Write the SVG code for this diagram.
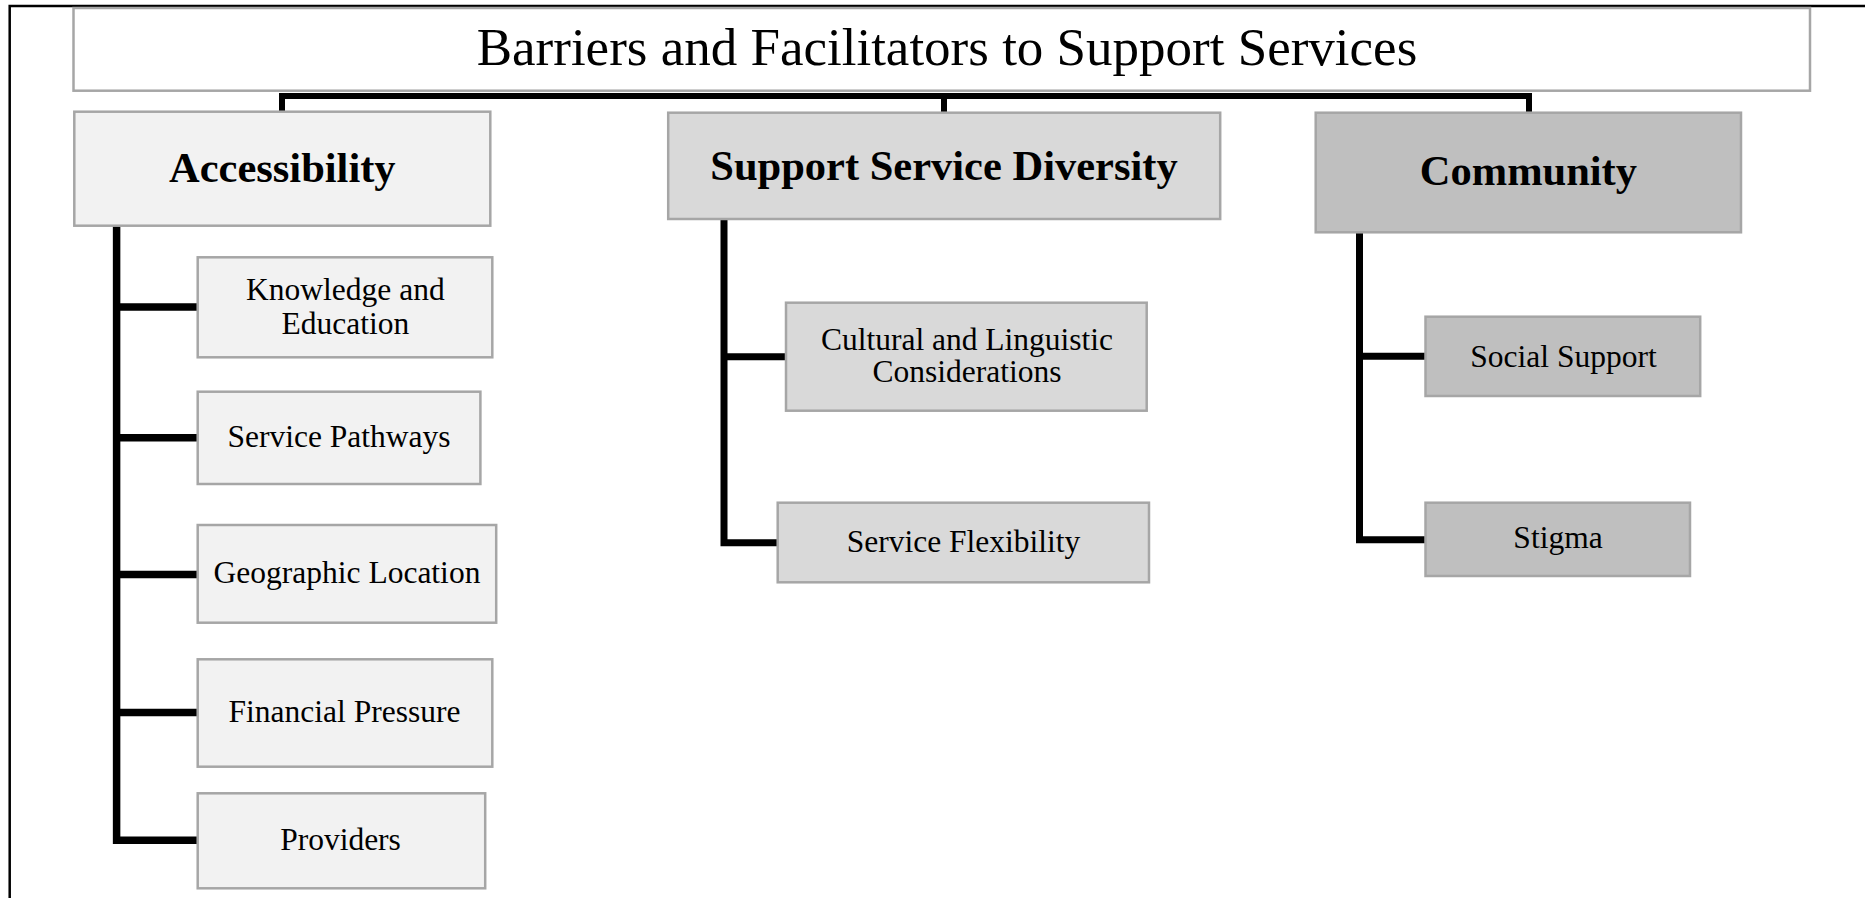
<svg xmlns="http://www.w3.org/2000/svg" width="1865" height="898" viewBox="0 0 1865 898">
<style>
  text { font-family: "Liberation Serif", "Times New Roman", serif; fill: #000; text-anchor: middle; }
  .title { font-size: 53px; }
  .head { font-size: 42.5px; font-weight: bold; }
  .sub { font-size: 31.5px; }
  .box { stroke: #a6a6a6; stroke-width: 2.5; }
  .l1 { fill: #f2f2f2; }
  .l2 { fill: #d9d9d9; }
  .l3 { fill: #bfbfbf; }
  .conn { fill: none; stroke: #000; stroke-linejoin: miter; stroke-linecap: butt; }
</style>
<rect x="0" y="0" width="1865" height="898" fill="#fff"/>
<g id="frame">
  <path d="M9.7 898 V6 H1865" fill="none" stroke="#000" stroke-width="2.5"/>
</g>
<g id="connectors">
  <path class="conn" stroke-width="6" d="M282 113 V96 H1529 V113"/>
  <path class="conn" stroke-width="6" d="M944 96 V113"/>
  <path class="conn" stroke-width="7.5" d="M116.6 225 V840.3 H198"/>
  <path class="conn" stroke-width="7.5" d="M116.6 307 H198 M116.6 437.8 H198 M116.6 574.5 H198 M116.6 712.5 H198"/>
  <path class="conn" stroke-width="7" d="M724 218 V542.7 H778"/>
  <path class="conn" stroke-width="7" d="M724 356.7 H786"/>
  <path class="conn" stroke-width="7" d="M1359.5 231 V539.7 H1426"/>
  <path class="conn" stroke-width="7" d="M1359.5 356.3 H1426"/>
</g>
<g id="title">
  <rect class="box" x="73.5" y="8" width="1736.5" height="82.7" fill="#fff"/>
  <text class="title" x="947" y="65">Barriers and Facilitators to Support Services</text>
</g>
<g id="accessibility">
  <rect class="box l1" x="74.3" y="111.7" width="416" height="114"/>
  <text class="head" x="282.3" y="181.7">Accessibility</text>
</g>
<g id="support-service-diversity">
  <rect class="box l2" x="668.2" y="112.7" width="552" height="106.3"/>
  <text class="head" x="944" y="180">Support Service Diversity</text>
</g>
<g id="community">
  <rect class="box l3" x="1315.7" y="112.7" width="425.3" height="119.6"/>
  <text class="head" x="1528.4" y="185">Community</text>
</g>
<g id="knowledge-education">
  <rect class="box l1" x="197.7" y="257.3" width="294.6" height="100"/>
  <text class="sub" x="345.4" y="300">Knowledge and</text>
  <text class="sub" x="345.4" y="334">Education</text>
</g>
<g id="service-pathways">
  <rect class="box l1" x="197.7" y="391.7" width="282.7" height="92.3"/>
  <text class="sub" x="339" y="446.7">Service Pathways</text>
</g>
<g id="geographic-location">
  <rect class="box l1" x="197.7" y="525" width="298.5" height="97.7"/>
  <text class="sub" x="347" y="583.3">Geographic Location</text>
</g>
<g id="financial-pressure">
  <rect class="box l1" x="197.7" y="659.3" width="294.6" height="107.4"/>
  <text class="sub" x="344.5" y="721.7">Financial Pressure</text>
</g>
<g id="providers">
  <rect class="box l1" x="197.7" y="793.3" width="287.5" height="95"/>
  <text class="sub" x="340.5" y="850">Providers</text>
</g>
<g id="cultural-linguistic">
  <rect class="box l2" x="786" y="302.7" width="360.7" height="108"/>
  <text class="sub" x="967" y="350">Cultural and Linguistic</text>
  <text class="sub" x="967" y="382.3">Considerations</text>
</g>
<g id="service-flexibility">
  <rect class="box l2" x="777.7" y="502.7" width="371.3" height="79.6"/>
  <text class="sub" x="963.5" y="551.7">Service Flexibility</text>
</g>
<g id="social-support">
  <rect class="box l3" x="1425.5" y="316.7" width="274.7" height="79.3"/>
  <text class="sub" x="1563.5" y="366.7">Social Support</text>
</g>
<g id="stigma">
  <rect class="box l3" x="1425.5" y="502.7" width="264.5" height="73.3"/>
  <text class="sub" x="1558" y="548.3">Stigma</text>
</g>
</svg>
